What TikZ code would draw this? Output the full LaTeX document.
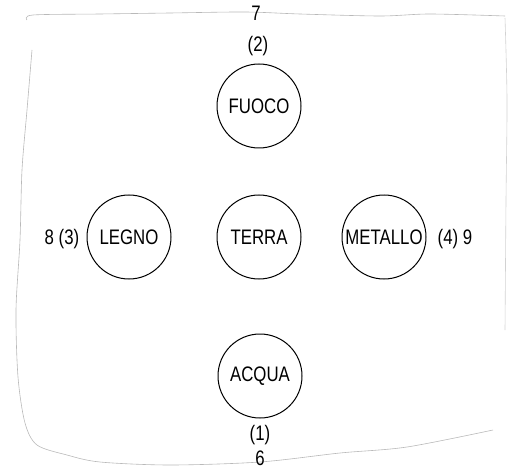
\documentclass[tikz,border=0pt]{standalone}
\usepackage{fontspec}
\setmainfont{Liberation Sans}[FakeStretch=0.8]

\begin{document}
\begin{tikzpicture}[x=1pt,y=-1pt,
    elem/.style={draw, circle, line width=1pt, minimum size=84pt, inner sep=0pt,
                 font=\fontsize{21}{24}\selectfont},
    num/.style={inner sep=0pt, font=\fontsize{21}{24}\selectfont},
    bordo/.style={gray!55, line width=0.6pt}]
\useasboundingbox (0,0) rectangle (510,470);
%\draw [help lines] (0,0) grid[step=50] (510,470);
% cornice a mano
\draw [bordo] plot [smooth] coordinates {(27,20) (33,15) (100,14) (170,13) (245,12) (300,14) (380,16) (430,14) (505,16)};
\draw [bordo, gray!35] plot [smooth] coordinates {(505,18) (507,100) (506,200) (505,330)};
\draw [bordo] plot [smooth] coordinates {(32,50) (27,110) (22,170) (20,240) (16,310) (18,377) (25,423) (37,445) (67,455) (100,462) (170,465) (260,462) (340,453) (407,447) (493,430)};
% elementi
\node [elem] (fuoco) at (259,106) {FUOCO};
\node [elem] (legno) at (129,237) {LEGNO};
\node [elem] (terra) at (259,237) {TERRA};
\node [elem] (metallo) at (384,237) {METALLO};
\node [elem] (acqua) at (260,376) {ACQUA};
% numeri
\node [num] (n7) at (256,13) {7};
\node [num] (n2) at (258,46) {(2)};
\node [num] (n8) at (62,239) {8 (3)};
\node [num] (n9) at (455,239) {(4) 9};
\node [num] (n1) at (260,435) {(1)};
\node [num] (n6) at (260,458) {6};
\end{tikzpicture}
\end{document}
